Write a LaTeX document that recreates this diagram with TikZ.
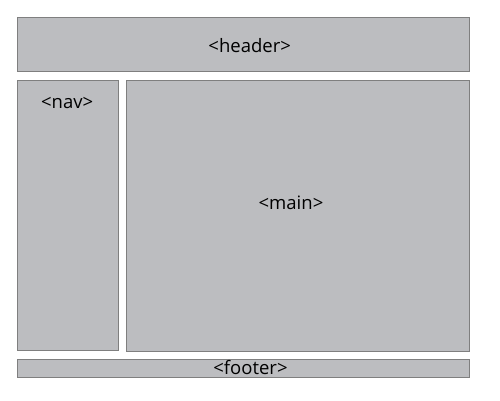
\documentclass[tikz,border=0pt]{standalone}
\usepackage{fontspec}
\setmainfont{Open Sans}
\definecolor{boxfill}{HTML}{BCBDC0}
\definecolor{boxline}{HTML}{7F7F7F}
\begin{document}
\begin{tikzpicture}[x=1pt,y=-1pt,
  region/.style={draw=boxline,fill=boxfill,line width=1pt},
  lbl/.style={font=\fontsize{18.5}{22}\selectfont,inner sep=0pt,anchor=base}]
\useasboundingbox (0,0) rectangle (500,400);
\fill[white] (0,0) rectangle (500,400);
\draw[region] (17.5,17.5) rectangle (469,71.5);
\draw[region] (17.5,80.5) rectangle (118,350);
\draw[region] (126,80.5) rectangle (469,351);
\draw[region] (17.5,359.5) rectangle (469,377.5);
\node[lbl] (header) at (249.7,52.2) {<header>};
\node[lbl] (nav) at (67.2,108.2) {<nav>};
\node[lbl] (main) at (291,209) {<main>};
\node[lbl] (footer) at (250.5,374.5) {<footer>};
\end{tikzpicture}
\end{document}
